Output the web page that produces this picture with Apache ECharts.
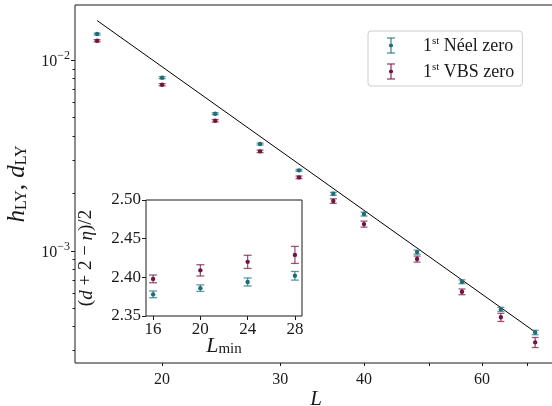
<!DOCTYPE html>
<html>
<head>
<meta charset="utf-8">
<script src="https://cdn.jsdelivr.net/npm/echarts@6/dist/echarts.min.js"></script>
<style>
  html, body { margin: 0; padding: 0; background: #fff; }
  #chart { width: 552px; height: 406px; }
</style>
</head>
<body>
<div id="chart"></div>
<script>
// Linear system sizes L
const sizes = [16, 20, 24, 28, 32, 36, 40, 48, 56, 64, 72];
// First Neel zero: h_LY with error
const neelZero = [0.01368, 0.008075, 0.005231, 0.003627, 0.002640, 0.001990, 0.001558, 0.000984, 0.000688, 0.000493, 0.000373];
const neelErr  = [0.00015, 0.00009, 0.00006, 0.00004, 0.00003, 0.000036, 0.000037, 0.000024, 0.000016, 0.000012, 0.000010];
// First VBS zero: d_LY with error
const vbsZero  = [0.01262, 0.007421, 0.004804, 0.003320, 0.002426, 0.001822, 0.001380, 0.000905, 0.0006095, 0.000448, 0.000331];
const vbsErr   = [0.00016, 0.00010, 0.00007, 0.00005, 0.00004, 0.00005, 0.00005, 0.000033, 0.000021, 0.000022, 0.000020];
// Power-law guide line end points
const fitL = [16, 72];
const fitY = [0.0161, 0.000375];

// Inset: exponent estimates vs smallest size in the fit window
const lMin = [16, 20, 24, 28];
const neelExp    = [2.378, 2.386, 2.394, 2.402];
const neelExpErr = [0.0043, 0.0042, 0.0052, 0.0056];
const vbsExp     = [2.398, 2.409, 2.420, 2.429];
const vbsExpErr  = [0.005, 0.0073, 0.0085, 0.011];

// Tick positions and labels
const xTicks = [20, 30, 40, 50, 60, 70];
const xTickLabels = [20, 30, 40, 60];
const yMajorTicks = [0.001, 0.01];
const yMinorTicks = [0.0003, 0.0004, 0.0005, 0.0006, 0.0007, 0.0008, 0.0009,
                     0.002, 0.003, 0.004, 0.005, 0.006, 0.007, 0.008, 0.009];
const insetXTicks = [16, 20, 24, 28];
const insetYTicks = [2.35, 2.40, 2.45, 2.50];

const TEAL = '#1c6f78';
const WINE = '#74133f';
const INK = '#1a1a1a';
const FONT = 'Liberation Serif';

const pairs = (xs, ys, es) => xs.map((x, i) => [x, ys[i], es[i]]);

// Point with vertical error bar and caps
function errorBar(capHalf, dotR) {
  return function (params, api) {
    const x = api.value(0), y = api.value(1), e = api.value(2);
    const c = api.coord([x, y]);
    const hi = api.coord([x, y + e]);
    const lo = api.coord([x, y - e]);
    const color = api.visual('color');
    const bar = { stroke: color, lineWidth: 1.3, opacity: 0.7 };
    return {
      type: 'group',
      children: [
        { type: 'line', shape: { x1: c[0], y1: hi[1], x2: c[0], y2: lo[1] }, style: bar },
        { type: 'line', shape: { x1: c[0] - capHalf, y1: hi[1], x2: c[0] + capHalf, y2: hi[1] }, style: bar },
        { type: 'line', shape: { x1: c[0] - capHalf, y1: lo[1], x2: c[0] + capHalf, y2: lo[1] }, style: bar },
        { type: 'circle', shape: { cx: c[0], cy: c[1], r: dotR }, style: { fill: color } }
      ]
    };
  };
}

const legendIcon = 'path://M0,0H10V1.3H0Z M4.35,1.3H5.65V18.7H4.35Z M0,18.7H10V20H0Z M5,7.4A2.6,2.6 0 1 1 5,12.6A2.6,2.6 0 1 1 5,7.4Z';

const chart = echarts.init(document.getElementById('chart'), null, { renderer: 'canvas' });

chart.setOption({
  animation: false,
  backgroundColor: '#fff',
  textStyle: { fontFamily: FONT, color: INK },
  grid: [
    { left: 75, top: 5, width: 482, height: 358, show: true, borderColor: INK, borderWidth: 1,
      backgroundColor: 'transparent', outerBoundsMode: 'none', containLabel: false },
    { left: 146, top: 200, width: 156, height: 116, show: true, borderColor: INK, borderWidth: 1,
      backgroundColor: '#fff', outerBoundsMode: 'none', containLabel: false, z: 3 }
  ],
  legend: {
    left: 368, top: 31,
    orient: 'vertical',
    padding: [5, 8, 5, 19],
    itemWidth: 8, itemHeight: 16, itemGap: 7,
    backgroundColor: '#fff',
    borderColor: '#cccccc', borderWidth: 1, borderRadius: 3,
    data: [
      { name: 'neel', icon: legendIcon },
      { name: 'vbs', icon: legendIcon }
    ],
    formatter: n => n === 'neel' ? '{t|1}{sup|st}{t| Néel zero}' : '{t|1}{sup|st}{t| VBS zero}',
    textStyle: {
      padding: [0, 0, 0, 23],
      rich: {
        t: { fontFamily: FONT, fontSize: 18, color: INK, lineHeight: 19, verticalAlign: 'bottom' },
        sup: { fontFamily: FONT, fontSize: 11, color: INK, lineHeight: 19, verticalAlign: 'top' }
      }
    }
  },
  xAxis: [
    {
      type: 'log', gridIndex: 0, min: 14.83, max: 77.6,
      axisLine: { show: false },
      splitLine: { show: false },
      axisTick: { show: true, customValues: xTicks, length: 3, lineStyle: { color: INK, width: 1 } },
      axisLabel: { show: true, customValues: xTickLabels, fontFamily: FONT, fontSize: 16, color: INK, margin: 9,
                   formatter: v => String(Math.round(v)) },
      name: 'L', nameLocation: 'middle', nameGap: 26, nameMoveOverlap: false,
      nameTextStyle: { fontFamily: FONT, fontSize: 21, fontStyle: 'italic', color: INK }
    },
    {
      type: 'value', gridIndex: 1, min: 15.4, max: 28.6,
      axisLine: { show: false },
      splitLine: { show: false },
      axisTick: { show: true, customValues: insetXTicks, length: 4, lineStyle: { color: INK, width: 1 } },
      axisLabel: { show: true, customValues: insetXTicks, fontFamily: FONT, fontSize: 17, color: INK, margin: 5,
                   formatter: v => String(Math.round(v)) },
      name: '{i|L}{s|min}', nameLocation: 'middle', nameGap: 19, nameMoveOverlap: false,
      nameTextStyle: {
        rich: {
          i: { fontFamily: FONT, fontSize: 22, fontStyle: 'italic', color: INK, lineHeight: 22, verticalAlign: 'top' },
          s: { fontFamily: FONT, fontSize: 15, color: INK, lineHeight: 22, verticalAlign: 'bottom' }
        }
      }
    }
  ],
  yAxis: [
    {
      type: 'log', gridIndex: 0, min: 0.000258, max: 0.01943, position: 'left',
      axisLine: { show: false },
      splitLine: { show: false },
      axisTick: { show: true, customValues: yMajorTicks, length: 4, lineStyle: { color: INK, width: 1 } },
      axisLabel: {
        show: true, customValues: yMajorTicks, margin: 5,
        formatter: v => '{b|10}{e|−' + Math.round(-Math.log10(v)) + '}',
        rich: {
          b: { fontFamily: FONT, fontSize: 16, color: INK, lineHeight: 20, verticalAlign: 'bottom' },
          e: { fontFamily: FONT, fontSize: 12, color: INK, lineHeight: 20, verticalAlign: 'top' }
        }
      },
      name: '{i|h}{s|LY}{n|, }{i|d}{s|LY}', nameLocation: 'middle', nameGap: 45, nameRotate: 90,
      nameMoveOverlap: false,
      nameTextStyle: {
        rich: {
          i: { fontFamily: FONT, fontSize: 25, fontStyle: 'italic', color: INK, lineHeight: 25, verticalAlign: 'top' },
          n: { fontFamily: FONT, fontSize: 25, color: INK, lineHeight: 25, verticalAlign: 'top' },
          s: { fontFamily: FONT, fontSize: 16, color: INK, lineHeight: 25, verticalAlign: 'bottom' }
        }
      }
    },
    {
      type: 'log', gridIndex: 0, min: 0.000258, max: 0.01943, position: 'left',
      axisLine: { show: false },
      splitLine: { show: false },
      axisTick: { show: true, customValues: yMinorTicks, length: 2.5, lineStyle: { color: INK, width: 1 } },
      axisLabel: { show: false }
    },
    {
      type: 'value', gridIndex: 1, min: 2.35, max: 2.50, position: 'left',
      axisLine: { show: false },
      splitLine: { show: false },
      axisTick: { show: true, customValues: insetYTicks, length: 4, lineStyle: { color: INK, width: 1 } },
      axisLabel: { show: true, customValues: insetYTicks, fontFamily: FONT, fontSize: 17, color: INK, margin: 5,
                   formatter: v => v.toFixed(2) },
      name: '({i|d} + 2 − {i|η})/2', nameLocation: 'middle', nameGap: 50, nameRotate: 90,
      nameMoveOverlap: false,
      nameTextStyle: {
        fontFamily: FONT, fontSize: 19, color: INK,
        rich: { i: { fontFamily: FONT, fontSize: 19, fontStyle: 'italic', color: INK } }
      }
    }
  ],
  series: [
    {
      name: 'fit', type: 'line', xAxisIndex: 0, yAxisIndex: 0,
      data: fitL.map((x, i) => [x, fitY[i]]),
      symbol: 'none', lineStyle: { color: '#000', width: 1 }, silent: true, z: 1
    },
    {
      name: 'neel', type: 'custom', xAxisIndex: 0, yAxisIndex: 0, color: TEAL,
      data: pairs(sizes, neelZero, neelErr), encode: { x: 0, y: 1 },
      renderItem: errorBar(3.5, 2.2), z: 2
    },
    {
      name: 'vbs', type: 'custom', xAxisIndex: 0, yAxisIndex: 0, color: WINE,
      data: pairs(sizes, vbsZero, vbsErr), encode: { x: 0, y: 1 },
      renderItem: errorBar(3.5, 2.2), z: 2
    },
    {
      name: 'neel', type: 'custom', xAxisIndex: 1, yAxisIndex: 2, color: TEAL,
      data: pairs(lMin, neelExp, neelExpErr), encode: { x: 0, y: 1 },
      renderItem: errorBar(4, 2.2), z: 4
    },
    {
      name: 'vbs', type: 'custom', xAxisIndex: 1, yAxisIndex: 2, color: WINE,
      data: pairs(lMin, vbsExp, vbsExpErr), encode: { x: 0, y: 1 },
      renderItem: errorBar(4, 2.2), z: 4
    }
  ]
});
</script>
</body>
</html>
